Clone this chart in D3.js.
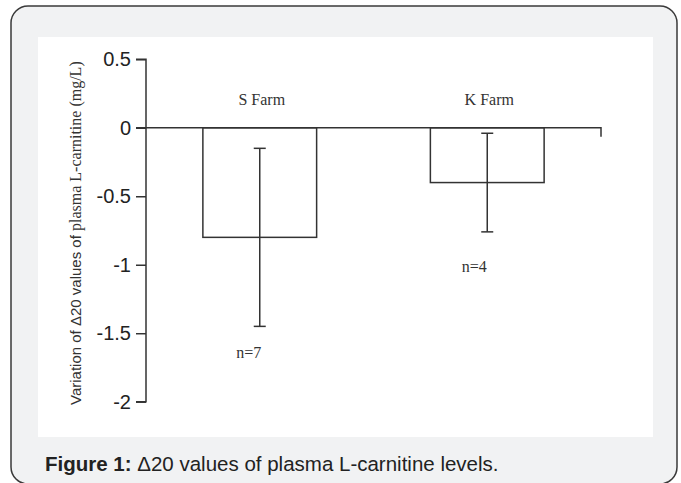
<!DOCTYPE html>
<html><head><meta charset="utf-8">
<script src="https://cdn.jsdelivr.net/npm/d3@7"></script>
<style>html,body{margin:0;padding:0;background:#fff;}svg{display:block;}</style>
</head><body>
<script>
const categories = ["S Farm", "K Farm"];
const means = [-0.8, -0.4];
const errHigh = [-0.15, -0.04];
const errLow = [-1.45, -0.76];
const nLabels = ["n=7", "n=4"];
const yTicks = [0.5, 0, -0.5, -1, -1.5, -2];
const yTickLabels = ["0.5", "0", "-0.5", "-1", "-1.5", "-2"];

const W = 681, H = 483;
const svg = d3.select("body").append("svg").attr("width", W).attr("height", H);

// card
svg.append("rect").attr("x", 11).attr("y", 6).attr("width", 666).attr("height", 478)
  .attr("rx", 17).attr("fill", "#f1f2f3").attr("stroke", "#3a3a3a").attr("stroke-width", 1.5);
svg.append("rect").attr("x", 38).attr("y", 37).attr("width", 615).attr("height", 400).attr("fill", "#fff");

const y = d3.scaleLinear().domain([-2, 0.5]).range([401.7, 59.3]);
const x = d3.scaleBand().domain(categories).range([146, 601]).paddingInner(0.5).paddingOuter(0.25);
const ink = "#333";

// y axis
const yAxis = d3.axisLeft(y).tickValues(yTicks).tickSize(10).tickPadding(5)
  .tickFormat((d, i) => yTickLabels[i]);
const ga = svg.append("g").attr("transform", "translate(146,0)").call(yAxis);
ga.select(".domain").attr("stroke", ink).attr("stroke-width", 1.5).attr("d", `M-10,${y(0.5)}H0V${y(-2)}H-10`);
ga.selectAll(".tick line").attr("stroke", ink).attr("stroke-width", 1.5);
ga.selectAll(".tick text").attr("font-family", "Liberation Sans, Arial, sans-serif")
  .attr("font-size", 20).attr("fill", "#222");

// x axis line at 0 with right end tick
svg.append("path").attr("fill", "none").attr("stroke", ink).attr("stroke-width", 1.5)
  .attr("d", `M136,${y(0)}H${x.range()[1]}V${y(0) + 9}`);

// bars
svg.selectAll("rect.bar").data(categories).join("rect").attr("class", "bar")
  .attr("x", d => x(d)).attr("width", x.bandwidth())
  .attr("y", (d, i) => y(0)).attr("height", (d, i) => y(means[i]) - y(0))
  .attr("fill", "none").attr("stroke", ink).attr("stroke-width", 1.5);
// redraw zero line segment on top (bar top coincides)
// error bars
categories.forEach((c, i) => {
  const cx = x(c) + x.bandwidth() / 2;
  const g = svg.append("g").attr("stroke", ink).attr("stroke-width", 1.5);
  g.append("line").attr("x1", cx).attr("x2", cx).attr("y1", y(errHigh[i])).attr("y2", y(errLow[i]));
  g.append("line").attr("x1", cx - 6).attr("x2", cx + 6).attr("y1", y(errHigh[i])).attr("y2", y(errHigh[i]));
  g.append("line").attr("x1", cx - 6).attr("x2", cx + 6).attr("y1", y(errLow[i])).attr("y2", y(errLow[i]));
});

// category labels
svg.selectAll("text.cat").data(categories).join("text").attr("class", "cat")
  .attr("x", d => x(d) + x.bandwidth() / 2 + 2).attr("y", 105)
  .attr("text-anchor", "middle").attr("font-family", "Liberation Serif, Times New Roman, serif")
  .attr("font-size", 16).attr("fill", ink).text(d => d);

// n labels
const nOffX = [-11, -13], nOffY = [32, 40];
svg.selectAll("text.n").data(nLabels).join("text").attr("class", "n")
  .attr("x", (d, i) => x(categories[i]) + x.bandwidth() / 2 + nOffX[i])
  .attr("y", (d, i) => y(errLow[i]) + nOffY[i])
  .attr("text-anchor", "middle").attr("font-family", "Liberation Serif, Times New Roman, serif")
  .attr("font-size", 16).attr("fill", ink).text(d => d);

// y title
const t = svg.append("text").attr("transform", "translate(81,405) rotate(-90)")
  .attr("fill", ink);
t.append("tspan").attr("font-family", "Liberation Sans, Arial, sans-serif").attr("font-size", 15)
  .text("Variation of Δ20 values of ");
t.append("tspan").attr("font-family", "Liberation Serif, Times New Roman, serif").attr("font-size", 16)
  .text("plasma L-carnitine (mg/L)");

// caption
const cap = svg.append("text").attr("x", 45).attr("y", 471)
  .attr("font-family", "Liberation Sans, Arial, sans-serif").attr("font-size", 20.5).attr("fill", "#222");
cap.append("tspan").attr("font-weight", "bold").text("Figure 1:");
cap.append("tspan").text(" Δ20 values of plasma L-carnitine levels.");
</script>
</body></html>
